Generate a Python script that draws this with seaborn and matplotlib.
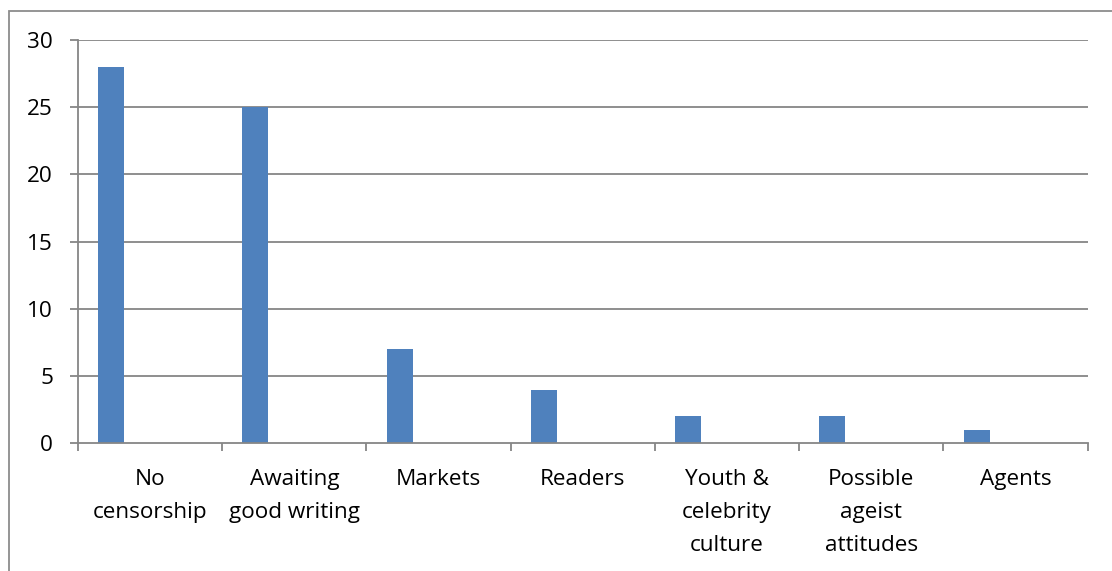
import matplotlib
matplotlib.use("Agg")
import matplotlib.pyplot as plt
import seaborn as sns
import pandas as pd
import numpy as np
from matplotlib.patches import Rectangle

categories = ["No\ncensorship", "Awaiting\ngood writing", "Markets", "Readers",
              "Youth &\ncelebrity\nculture", "Possible\nageist\nattitudes", "Agents"]
values = [28, 25, 7, 4, 2, 2, 1]
series = ["Series1", "Series2", "Series3", "Series4"]

sns.set_theme(style="white")
plt.rcParams['font.family'] = ['Open Sans', 'DejaVu Sans']

rows = []
for c, v in zip(categories, values):
    rows.append({"cat": c, "series": series[0], "val": v})
    for s in series[1:]:
        rows.append({"cat": c, "series": s, "val": np.nan})
df = pd.DataFrame(rows)

fig = plt.figure(figsize=(11.12, 5.71), dpi=100)
ax = fig.add_axes([78/1112, 1-443.3/571, (1087.7-78)/1112, (443.3-40)/571])

sns.barplot(data=df, x="cat", y="val", hue="series", hue_order=series,
            order=categories, palette=["#4F81BD"]*4, width=0.72, gap=0,
            dodge=True, errorbar=None, legend=False, ax=ax, saturation=1)
for p in ax.patches:
    p.set_edgecolor("none")

grid_c = "#868686"
fs = 16.2
ax.set_ylim(0, 30)
ax.set_yticks(range(0, 31, 5))
ax.set_xlim(-0.5, len(categories) - 0.5)
for yv in range(5, 31, 5):
    ax.axhline(yv, color=grid_c, lw=1.3, zorder=0)
ax.set_xticks(np.arange(len(categories)))
ax.set_xticklabels(categories, fontsize=fs, linespacing=1.76, color="black")
ax.tick_params(axis="x", length=0, pad=18.5)
ax.set_xticks(np.arange(-0.5, len(categories)), minor=True)
ax.tick_params(axis="x", which="minor", length=6, width=1.3, color=grid_c, direction="out", bottom=True)
ax.tick_params(axis="y", length=6, width=1.3, color=grid_c, direction="out", left=True, pad=12, labelsize=fs, labelcolor="black")
ax.set_xlabel("")
ax.set_ylabel("")
for side in ["top", "right"]:
    ax.spines[side].set_visible(False)
for side in ["left", "bottom"]:
    ax.spines[side].set_color(grid_c)
    ax.spines[side].set_linewidth(1.3)

fig.patches.append(Rectangle((9/1112, -0.1), 1.2, 1 - 11/571 + 0.1, transform=fig.transFigure,
                             fill=False, edgecolor="#8c8c8c", lw=1.3))
fig.savefig("out.png", dpi=100)
